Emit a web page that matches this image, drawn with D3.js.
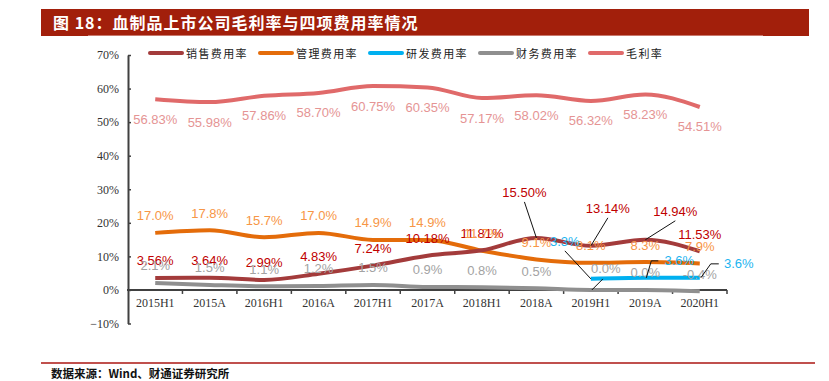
<!DOCTYPE html>
<html><head><meta charset="utf-8">
<script src="https://cdn.jsdelivr.net/npm/d3@7/dist/d3.min.js"></script>
<style>
html,body{margin:0;padding:0;background:#fff;}
svg{display:block;}
</style></head>
<body>
<svg id="chart" width="829" height="381"></svg>
<script>
const categories = ["2015H1","2015A","2016H1","2016A","2017H1","2017A","2018H1","2018A","2019H1","2019A","2020H1"];
const salesRate = [3.56,3.64,2.99,4.83,7.24,10.18,11.81,15.50,13.14,14.94,11.53];
const adminRate = [17.0,17.8,15.7,17.0,14.9,14.9,11.7,9.1,8.1,8.3,7.9];
const rdRate = [null,null,null,null,null,null,null,null,3.3,3.6,3.6];
const finRate = [2.1,1.5,1.1,1.2,1.5,0.9,0.8,0.5,0.0,0.0,-0.4];
const grossRate = [56.83,55.98,57.86,58.70,60.75,60.35,57.17,58.02,56.32,58.23,54.51];
const yTicks = [-10,0,10,20,30,40,50,60,70];
const seriesNames = ["销售费用率","管理费用率","研发费用率","财务费用率","毛利率"];

const svg = d3.select("#chart");

// title bar
svg.append("rect").attr("x",41).attr("y",9).attr("width",768).attr("height",27).attr("fill","#A21F0B");
svg.append("line").attr("x1",88).attr("x2",763).attr("y1",35.5).attr("y2",35.5).attr("stroke","#C9786C").attr("stroke-width",1);
svg.append("text").attr("x",53).attr("y",28.5)
  .attr("font-family","'Noto Sans CJK SC',sans-serif").attr("font-weight","bold")
  .attr("font-size",16).attr("letter-spacing",1).attr("fill","#fff")
  .text("图 18：血制品上市公司毛利率与四项费用率情况");

// footer
svg.append("line").attr("x1",41).attr("x2",815).attr("y1",363).attr("y2",363).attr("stroke","#C0504D").attr("stroke-width",2);
svg.append("text").attr("x",51).attr("y",377.5)
  .attr("font-family","'Noto Sans CJK SC',sans-serif").attr("font-weight","bold")
  .attr("font-size",11.5).attr("fill","#111")
  .text("数据来源：Wind、财通证券研究所");

const x = d3.scaleBand().domain(categories).range([128,727]).padding(0);
const y = d3.scaleLinear().domain([-10,70]).range([323.5,55]);
const cx = c => x(c) + x.bandwidth()/2;

// axes
const yAxis = svg.append("g").attr("transform","translate(128,0)")
  .call(d3.axisLeft(y).tickValues(yTicks).tickSizeInner(-3).tickSizeOuter(0).tickPadding(9)
    .tickFormat(d => (d<0?"−":"") + Math.abs(d) + "%"));
yAxis.select(".domain").attr("stroke","#404040").attr("stroke-width",2);
yAxis.selectAll(".tick line").attr("stroke","#404040").attr("stroke-width",1.5);
yAxis.selectAll("text").attr("font-family","'Liberation Serif',serif").attr("font-size",12).attr("fill","#333");

const xAxis = svg.append("g").attr("transform",`translate(0,${y(0)})`)
  .call(d3.axisBottom(x).tickSize(0).tickPadding(9));
xAxis.select(".domain").remove();
xAxis.selectAll("text").attr("font-family","'Liberation Serif',serif").attr("font-size",12).attr("fill","#333");
svg.append("line").attr("x1",127).attr("x2",727).attr("y1",y(0)).attr("y2",y(0)).attr("stroke","#404040").attr("stroke-width",2);
const bounds = categories.map(c => x(c)).slice(1).concat([727]);
svg.append("g").selectAll("line").data(bounds).join("line")
  .attr("x1",d=>d).attr("x2",d=>d).attr("y1",y(0)).attr("y2",y(0)+4)
  .attr("stroke","#404040").attr("stroke-width",1.5);

// series
const series = [
  {name:seriesNames[0], values:salesRate, line:"#A33B3B", label:"#C00000", dy:-17, fmt:d=>d.toFixed(2)+"%"},
  {name:seriesNames[1], values:adminRate, line:"#E46C0A", label:"#F79646", dy:-17, fmt:d=>d.toFixed(1)+"%"},
  {name:seriesNames[2], values:rdRate, line:"#00B0F0", label:"#1CB4F0", dy:-17, fmt:d=>d.toFixed(1)+"%"},
  {name:seriesNames[3], values:finRate, line:"#8F8F8F", label:"#A3A3A3", dy:-17, fmt:d=>d.toFixed(1)+"%"},
  {name:seriesNames[4], values:grossRate, line:"#E06A6A", label:"#E59494", dy:20, fmt:d=>d.toFixed(2)+"%"}
];

const lineGen = d3.line().defined(d=>d.v!=null).x(d=>cx(d.c)).y(d=>y(d.v)).curve(d3.curveMonotoneX);
const drawOrder = [3,4,1,0,2];
drawOrder.forEach(i => {
  const s = series[i];
  svg.append("path").datum(categories.map((c,j)=>({c, v:s.values[j]})))
    .attr("d",lineGen).attr("fill","none").attr("stroke",s.line)
    .attr("stroke-width",4).attr("stroke-linejoin","round").attr("stroke-linecap","butt");
});

// label placements that differ from the default: offset from the point, leader type
const special = {
  "0-7": {dx:-12, dy:-45, leader:"straight"},
  "0-8": {dx:17, dy:-37, leader:"straight"},
  "0-9": {dx:30, dy:-28, leader:"straight"},
  "2-8": {dx:-26, dy:-37, leader:"straight"},
  "2-9": {dx:34, dy:-17, leader:"elbow"},
  "2-10": {dx:39, dy:-14, leader:"elbow"},
  "3-8": {dx:15, dy:-21, leader:"short"}
};

const labelG = svg.append("g");
const leaderG = svg.append("g");
[0,1,2,3,4].forEach(i => {
  const s = series[i];
  s.values.forEach((v,j) => {
    if (v==null) return;
    const px = cx(categories[j]), py = y(v);
    const sp = special[i+"-"+j];
    const dx = sp ? sp.dx : 0, dy = sp ? sp.dy : s.dy;
    const lx = px+dx, ly = py+dy;
    labelG.append("text").attr("x",lx).attr("y",ly+4.5).attr("text-anchor","middle")
      .attr("font-family","'Liberation Sans',Arial,sans-serif").attr("font-size",13)
      .attr("fill",s.label).text(s.fmt(v));
    if (sp) {
      let pts;
      if (sp.leader==="elbow") {
        const far = dx>36;
        pts = [[px+1,py],[px+(far?11:6),ly],[px+(far?19:13),ly]];
      } else if (sp.leader==="short") {
        pts = [[px+12,py-11],[px+1,py]];
      } else {
        pts = [[lx, ly+9],[px, py]];
      }
      leaderG.append("path").attr("d",d3.line()(pts)).attr("fill","none")
        .attr("stroke","#111").attr("stroke-width",1);
    }
  });
});

// legend
const legendX = [150,260,370,480,590];
const lg = svg.append("g").selectAll("g").data(series).join("g")
  .attr("transform",(d,i)=>`translate(${legendX[i]},53)`);
lg.append("line").attr("x1",0).attr("x2",32).attr("y1",0).attr("y2",0)
  .attr("stroke",d=>d.line).attr("stroke-width",4).attr("stroke-linecap","round");
lg.append("text").attr("x",36).attr("y",4.5)
  .attr("font-family","'Noto Sans CJK SC',sans-serif").attr("font-size",11)
  .attr("letter-spacing",1.4).attr("fill","#222").text(d=>d.name);
</script>
</body></html>
